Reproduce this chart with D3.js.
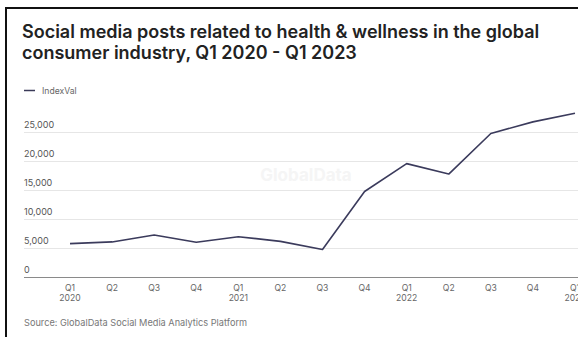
<!DOCTYPE html>
<html>
<head>
<meta charset="utf-8">
<script src="https://cdn.jsdelivr.net/npm/d3@7"></script>
<style>
  html, body { margin: 0; padding: 0; background: #fff; overflow: hidden; }
  svg { display: block; }
</style>
</head>
<body>
<svg id="chart" width="578" height="337"></svg>
<script>
// Quarterly index of health & wellness social media posts
const quarters = ["Q1", "Q2", "Q3", "Q4", "Q1", "Q2", "Q3", "Q4", "Q1", "Q2", "Q3", "Q4", "Q1"];
const years    = ["2020", "", "", "", "2021", "", "", "", "2022", "", "", "", "2023"];
const indexVal = [5800, 6100, 7300, 6050, 7000, 6200, 4800, 14800, 19600, 17800, 24800, 26800, 28300];
const yTicks   = [0, 5000, 10000, 15000, 20000, 25000];

const title1 = "Social media posts related to health & wellness in the global";
const title2 = "consumer industry, Q1 2020 - Q1 2023";
const source = "Source: GlobalData Social Media Analytics Platform";

const svg = d3.select("#chart");
const font = "Inter, 'Helvetica Neue', Arial, sans-serif";

// frame
svg.append("path")
  .attr("d", "M6,337 V8 H578")
  .attr("fill", "none").attr("stroke", "#111").attr("stroke-width", 2);

// title
svg.append("text").attr("x", 22).attr("y", 38)
  .attr("font-family", font).attr("font-weight", 600).attr("font-size", 18)
  .attr("fill", "#222").text(title1);
svg.append("text").attr("x", 22).attr("y", 59)
  .attr("font-family", font).attr("font-weight", 600).attr("font-size", 18)
  .attr("fill", "#222").text(title2);

// legend
svg.append("line").attr("x1", 24).attr("x2", 35).attr("y1", 90.5).attr("y2", 90.5)
  .attr("stroke", "#3a3a58").attr("stroke-width", 1.5);
svg.append("text").attr("x", 42).attr("y", 93.5)
  .attr("font-family", font).attr("font-size", 8.6).attr("fill", "#666").text("IndexVal");

// scales
const x = d3.scalePoint().domain(d3.range(indexVal.length)).range([70, 575]);
const y = d3.scaleLinear().domain([0, 25000]).range([277.3, 132.3]);

// gridlines + y labels
const grid = svg.append("g");
yTicks.forEach(t => {
  grid.append("line")
    .attr("x1", 24).attr("x2", 578)
    .attr("y1", Math.round(y(t)) + 0.5).attr("y2", Math.round(y(t)) + 0.5)
    .attr("stroke", t === 0 ? "#8a8a8a" : "#e6e6e6")
    .attr("stroke-width", t === 0 ? 1.2 : 1);
  grid.append("text")
    .attr("x", 24).attr("y", y(t) - 4)
    .attr("font-family", font).attr("font-size", 9).attr("fill", "#555")
    .text(d3.format(",")(t));
});

// watermark
svg.append("text").attr("x", 306).attr("y", 181).attr("text-anchor", "middle")
  .attr("font-family", font).attr("font-weight", 700).attr("font-size", 17)
  .attr("fill", "#f5f5f5").text("GlobalData");

// x axis labels
const xl = svg.append("g");
quarters.forEach((q, i) => {
  xl.append("text").attr("x", x(i)).attr("y", 291).attr("text-anchor", "middle")
    .attr("font-family", font).attr("font-size", 8.6).attr("fill", "#666").text(q);
  if (years[i]) {
    xl.append("text").attr("x", x(i)).attr("y", 300.5).attr("text-anchor", "middle")
      .attr("font-family", font).attr("font-size", 8.6).attr("fill", "#666").text(years[i]);
  }
});

// series line
const line = d3.line().x((d, i) => x(i)).y(d => y(d));
svg.append("path").datum(indexVal)
  .attr("d", line)
  .attr("fill", "none").attr("stroke", "#3b3b5c").attr("stroke-width", 1.6)
  .attr("stroke-linejoin", "round");

// source
svg.append("text").attr("x", 24).attr("y", 326)
  .attr("font-family", font).attr("font-size", 9.2).attr("fill", "#777").text(source);
</script>
</body>
</html>
